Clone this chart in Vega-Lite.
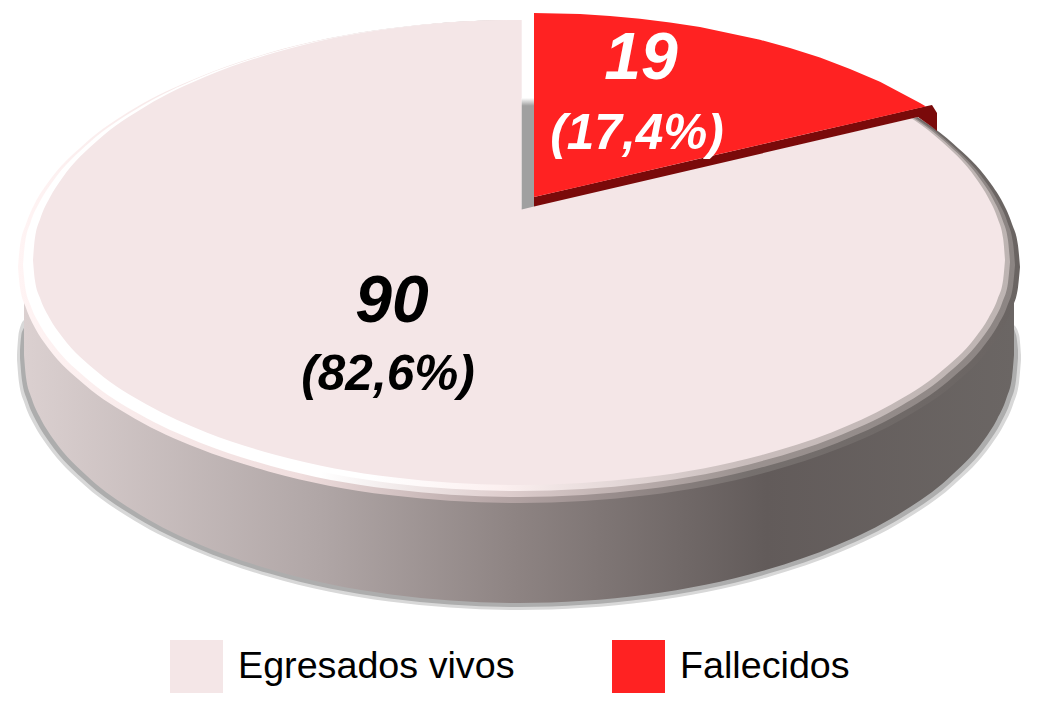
{
"$schema":"https://vega.github.io/schema/vega-lite/v6.json",
"width":1037,"height":705,"padding":0,"autosize":{"type":"none"},"background":"white",
"view":{"stroke":null},
"config":{"font":"Liberation Sans","view":{"stroke":null}},
"datasets":{
"shadowSoft":[{"x":17,"y":355,"y2":360},{"x":18.9,"y":332,"y2":381.8},{"x":24.6,"y":320,"y2":403.4},{"x":34.1,"y":325,"y2":424.7},{"x":47.3,"y":325,"y2":445.5},{"x":84.3,"y":325,"y2":485},{"x":134.5,"y":325,"y2":520.7},{"x":196.3,"y":325,"y2":551.5},{"x":268,"y":325,"y2":576.5},{"x":389.1,"y":325,"y2":601.5},{"x":519,"y":325,"y2":610},{"x":648.9,"y":325,"y2":601.5},{"x":770,"y":325,"y2":576.5},{"x":841.7,"y":325,"y2":551.5},{"x":903.5,"y":325,"y2":520.7},{"x":953.7,"y":325,"y2":485},{"x":990.7,"y":325,"y2":445.5},{"x":1003.9,"y":325,"y2":424.7},{"x":1013.4,"y":325,"y2":403.4},{"x":1019.1,"y":335,"y2":381.8},{"x":1021,"y":355,"y2":360}],
"shadowHard":[{"x":20,"y":350,"y2":358},{"x":21.9,"y":332,"y2":379.7},{"x":27.6,"y":325,"y2":401.2},{"x":37,"y":325,"y2":422.4},{"x":50.1,"y":325,"y2":443.2},{"x":86.9,"y":325,"y2":482.5},{"x":136.8,"y":325,"y2":518.1},{"x":198.2,"y":325,"y2":548.7},{"x":269.5,"y":325,"y2":573.6},{"x":389.9,"y":325,"y2":598.5},{"x":519,"y":325,"y2":607},{"x":648.1,"y":325,"y2":598.5},{"x":768.5,"y":325,"y2":573.6},{"x":839.8,"y":325,"y2":548.7},{"x":901.2,"y":325,"y2":518.1},{"x":951.1,"y":325,"y2":482.5},{"x":987.9,"y":325,"y2":443.2},{"x":1001,"y":325,"y2":422.4},{"x":1010.4,"y":325,"y2":401.2},{"x":1016.1,"y":335,"y2":379.7},{"x":1018,"y":350,"y2":358}],
"side":[{"x":24,"y":290,"y2":355},{"x":25.9,"y":290,"y2":376.6},{"x":31.5,"y":290,"y2":398.1},{"x":40.9,"y":290,"y2":419.2},{"x":53.8,"y":290,"y2":439.8},{"x":90.3,"y":290,"y2":479},{"x":139.8,"y":290,"y2":514.4},{"x":200.8,"y":290,"y2":545},{"x":271.5,"y":290,"y2":569.8},{"x":390.9,"y":290,"y2":594.5},{"x":519,"y":290,"y2":603},{"x":647.1,"y":290,"y2":594.5},{"x":766.5,"y":290,"y2":569.8},{"x":837.2,"y":290,"y2":545},{"x":898.2,"y":290,"y2":514.4},{"x":947.7,"y":290,"y2":479},{"x":984.2,"y":290,"y2":439.8},{"x":997.1,"y":290,"y2":419.2},{"x":1006.5,"y":290,"y2":398.1},{"x":1012.1,"y":290,"y2":376.6},{"x":1014,"y":290,"y2":355}],
"rimA":[{"x":18,"y":267,"y2":267},{"x":20,"y":245.5,"y2":287.6},{"x":26,"y":224,"y2":308},{"x":35,"y":203,"y2":328},{"x":48,"y":182.5,"y2":347.7},{"x":85,"y":143.5,"y2":385},{"x":135,"y":108,"y2":418.7},{"x":197,"y":78,"y2":447.8},{"x":268.5,"y":53,"y2":471.4},{"x":389,"y":28.4,"y2":495},{"x":519,"y":20,"y2":503},{"x":649,"y":28.4,"y2":495},{"x":769.5,"y":53,"y2":471.4},{"x":841,"y":78,"y2":447.8},{"x":903,"y":108,"y2":418.7},{"x":953,"y":143.5,"y2":385},{"x":990,"y":182.5,"y2":347.7},{"x":1003,"y":203,"y2":328},{"x":1012,"y":224,"y2":308},{"x":1018,"y":245.5,"y2":287.6},{"x":1020,"y":267,"y2":267}],
"rimB":[{"x":23,"y":265,"y2":265},{"x":24.9,"y":243.6,"y2":285.2},{"x":30.5,"y":222.5,"y2":305.3},{"x":39.9,"y":201.6,"y2":325},{"x":52.9,"y":181.2,"y2":344.3},{"x":89.5,"y":142.5,"y2":381},{"x":139.1,"y":107.5,"y2":414.1},{"x":200.2,"y":77.3,"y2":442.7},{"x":271,"y":52.8,"y2":465.9},{"x":390.6,"y":28.4,"y2":489.1},{"x":519,"y":20,"y2":497},{"x":647.4,"y":28.4,"y2":489.1},{"x":767,"y":52.8,"y2":465.9},{"x":837.8,"y":77.3,"y2":442.7},{"x":898.9,"y":107.5,"y2":414.1},{"x":948.5,"y":142.5,"y2":381},{"x":985.1,"y":181.2,"y2":344.3},{"x":998.1,"y":201.6,"y2":325},{"x":1007.5,"y":222.5,"y2":305.3},{"x":1013.1,"y":243.6,"y2":285.2},{"x":1015,"y":265,"y2":265}],
"rimC":[{"x":28,"y":262,"y2":262},{"x":29.9,"y":240.9,"y2":282},{"x":35.5,"y":220,"y2":301.8},{"x":44.7,"y":199.4,"y2":321.3},{"x":57.6,"y":179.2,"y2":340.3},{"x":93.8,"y":141,"y2":376.5},{"x":142.9,"y":106.4,"y2":409.2},{"x":203.4,"y":76.6,"y2":437.4},{"x":273.5,"y":52.4,"y2":460.3},{"x":391.9,"y":28.3,"y2":483.2},{"x":519,"y":20,"y2":491},{"x":646.1,"y":28.3,"y2":483.2},{"x":764.5,"y":52.4,"y2":460.3},{"x":834.6,"y":76.6,"y2":437.4},{"x":895.1,"y":106.4,"y2":409.2},{"x":944.2,"y":141,"y2":376.5},{"x":980.4,"y":179.2,"y2":340.3},{"x":993.3,"y":199.4,"y2":321.3},{"x":1002.5,"y":220,"y2":301.8},{"x":1008.1,"y":240.9,"y2":282},{"x":1010,"y":262,"y2":262}],
"face":[{"x":33,"y":260,"y2":260},{"x":34.8,"y":239.1,"y2":279.6},{"x":40.4,"y":218.3,"y2":299.1},{"x":49.6,"y":197.9,"y2":318.2},{"x":62.3,"y":177.9,"y2":337},{"x":98.1,"y":140,"y2":372.5},{"x":146.7,"y":105.7,"y2":404.6},{"x":206.6,"y":76.2,"y2":432.4},{"x":276,"y":52.2,"y2":454.9},{"x":393.2,"y":28.2,"y2":477.3},{"x":519,"y":20,"y2":485},{"x":644.8,"y":28.2,"y2":477.3},{"x":762,"y":52.2,"y2":454.9},{"x":831.4,"y":76.2,"y2":432.4},{"x":891.3,"y":105.7,"y2":404.6},{"x":939.9,"y":140,"y2":372.5},{"x":975.7,"y":177.9,"y2":337},{"x":988.4,"y":197.9,"y2":318.2},{"x":997.6,"y":218.3,"y2":299.1},{"x":1003.2,"y":239.1,"y2":279.6},{"x":1005,"y":260,"y2":260}],
"notch":[{"x":521.7,"y":0,"y2":208},{"x":918,"y":0,"y2":117}],
"gapShade":[{"x":521.7,"y":98,"y2":209.5},{"x":534,"y":98,"y2":206.5}],
"redDepth":[{"x":534,"y":197,"y2":206.5},{"x":918,"y":108,"y2":117},{"x":932,"y":105,"y2":127},{"x":937,"y":113,"y2":131}],
"redTop":[{"x":534,"y":13,"y2":197},{"x":580,"y":14,"y2":186.4},{"x":610,"y":16,"y2":179.4},{"x":640,"y":18.7,"y2":172.5},{"x":670,"y":22.4,"y2":165.5},{"x":700,"y":27,"y2":158.6},{"x":760,"y":39.8,"y2":144.7},{"x":790,"y":48,"y2":137.8},{"x":820,"y":57.6,"y2":130.8},{"x":850,"y":69,"y2":123.9},{"x":880,"y":81.8,"y2":116.9},{"x":920,"y":103,"y2":107.7},{"x":926,"y":106.5,"y2":106.5}],
"labels":[{"group":"Egresados vivos","n":"90","pct":"(82,6%)","xn":392,"yn":322,"xp":388,"yp":390},{"group":"Fallecidos","n":"19","pct":"(17,4%)","xn":641,"yn":79,"xp":637,"yp":149}]
},
"layer":[
{"encoding":{
"x":{"field":"x","type":"quantitative","scale":{"domain":[0,1037],"nice":false,"zero":false},"axis":null},
"y":{"field":"y","type":"quantitative","scale":{"domain":[705,0],"nice":false,"zero":false},"axis":null},
"y2":{"field":"y2"}},
"layer":[
{"data":{"name":"shadowSoft"},"mark":{"type":"area","interpolate":"monotone","color":"#d8d8d8"}},
{"data":{"name":"shadowHard"},"mark":{"type":"area","interpolate":"monotone","color":"#adadad"}},
{"data":{"name":"side"},"mark":{"type":"area","interpolate":"monotone","color":{"gradient":"linear","x1":0,"y1":0,"x2":1,"y2":0,"stops":[{"offset":0,"color":"#dbd0d0"},{"offset":0.3,"color":"#b0a6a6"},{"offset":0.5,"color":"#8d8382"},{"offset":0.75,"color":"#625b5a"},{"offset":1,"color":"#6b6664"}]}}},
{"data":{"name":"rimA"},"mark":{"type":"area","interpolate":"monotone","color":{"gradient":"linear","x1":0,"y1":0,"x2":1,"y2":0,"stops":[{"offset":0,"color":"#fff4f4"},{"offset":0.28,"color":"#f0dede"},{"offset":0.48,"color":"#b5a5a5"},{"offset":0.73,"color":"#76706e"},{"offset":1,"color":"#6a6462"}]}}},
{"data":{"name":"rimB"},"mark":{"type":"area","interpolate":"monotone","color":{"gradient":"linear","x1":0,"y1":0,"x2":1,"y2":0,"stops":[{"offset":0,"color":"#ffffff"},{"offset":0.3,"color":"#ffffff"},{"offset":0.48,"color":"#e0cfcf"},{"offset":0.73,"color":"#9b9290"},{"offset":1,"color":"#8c8583"}]}}},
{"data":{"name":"rimC"},"mark":{"type":"area","interpolate":"monotone","color":{"gradient":"linear","x1":0,"y1":0,"x2":1,"y2":0,"stops":[{"offset":0,"color":"#ffffff"},{"offset":0.35,"color":"#ffffff"},{"offset":0.48,"color":"#fcf0f0"},{"offset":0.73,"color":"#c9bdbc"},{"offset":1,"color":"#bdb4b2"}]}}},
{"data":{"name":"face"},"mark":{"type":"area","interpolate":"monotone"},"encoding":{"color":{"datum":"Egresados vivos","type":"nominal","scale":{"domain":["Egresados vivos","Fallecidos"],"range":["#f4e6e7","#ff2222"]},"legend":{"title":null,"orient":"none","legendX":170,"legendY":640,"direction":"horizontal","columns":2,"symbolType":"square","symbolSize":2809,"symbolStrokeWidth":0,"symbolOpacity":1,"labelFontSize":37.7,"labelFont":"Liberation Sans","labelColor":"#000000","labelOffset":15,"columnPadding":97,"labelLimit":400}}}},
{"data":{"name":"notch"},"mark":{"type":"area","color":"#ffffff"}},
{"data":{"name":"gapShade"},"mark":{"type":"area","color":{"gradient":"linear","x1":0,"y1":0,"x2":0,"y2":1,"stops":[{"offset":0,"color":"#ffffff"},{"offset":0.07,"color":"#a0a0a0"},{"offset":1,"color":"#a0a0a0"}]}}},
{"data":{"name":"redDepth"},"mark":{"type":"area","color":"#7a0a0a"}},
{"data":{"name":"redTop"},"mark":{"type":"area"},"encoding":{"color":{"datum":"Fallecidos","type":"nominal"}}}
]},
{"data":{"name":"labels"},"mark":{"type":"text","font":"Liberation Sans","fontWeight":"bold","fontStyle":"italic","fontSize":66,"align":"center","baseline":"alphabetic"},
"encoding":{"x":{"field":"xn","type":"quantitative"},"y":{"field":"yn","type":"quantitative"},"text":{"field":"n"},"color":{"condition":{"test":"datum.group==='Fallecidos'","value":"#ffffff"},"value":"#000000"}}},
{"data":{"name":"labels"},"mark":{"type":"text","font":"Liberation Sans","fontWeight":"bold","fontStyle":"italic","fontSize":49.5,"align":"center","baseline":"alphabetic"},
"encoding":{"x":{"field":"xp","type":"quantitative"},"y":{"field":"yp","type":"quantitative"},"text":{"field":"pct"},"color":{"condition":{"test":"datum.group==='Fallecidos'","value":"#ffffff"},"value":"#000000"}}}
]
}
